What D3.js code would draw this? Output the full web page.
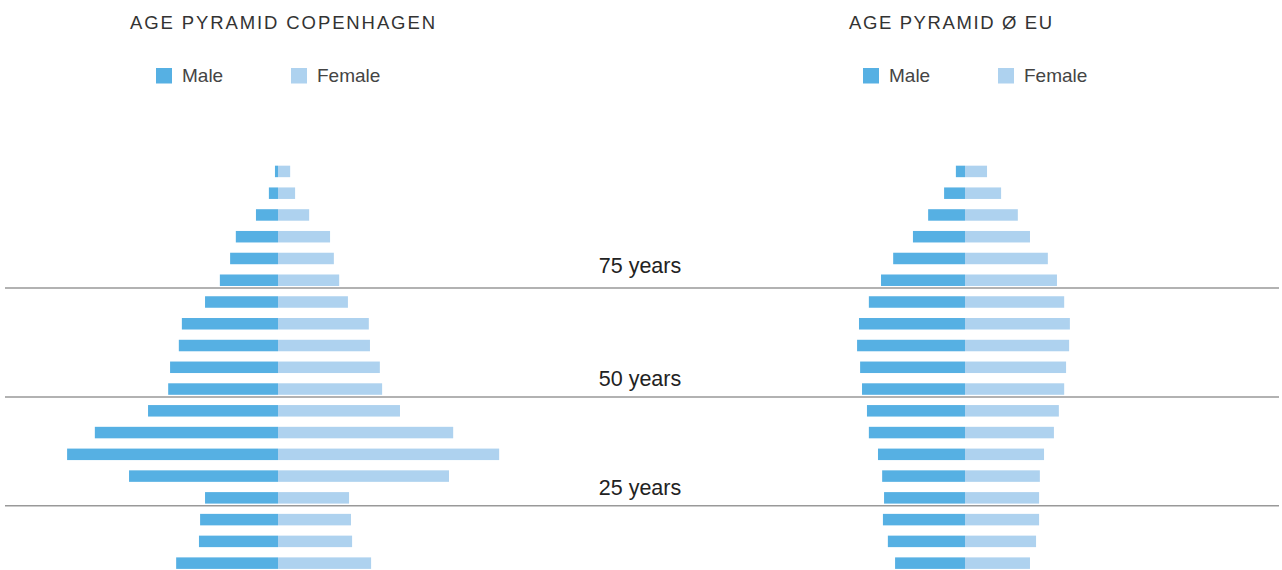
<!DOCTYPE html>
<html>
<head>
<meta charset="utf-8">
<script src="https://cdn.jsdelivr.net/npm/d3@7"></script>
<style>
  body { margin: 0; background: #fff; }
  svg text { font-family: "Liberation Sans", Arial, Helvetica, sans-serif; }
</style>
</head>
<body>
<script>
// age groups (start age of each 5-year group), youngest first
var ageGroups = [10, 15, 20, 25, 30, 35, 40, 45, 50, 55, 60, 65, 70, 75, 80, 85, 90, 95, 100];

// share of population in % per group
var cphMale   = [2.68, 2.08, 2.05, 1.92, 3.92, 5.55, 4.82, 3.42, 2.89, 2.84, 2.61, 2.53, 1.92, 1.53, 1.26, 1.11, 0.58, 0.24, 0.08];
var cphFemale = [2.45, 1.95, 1.92, 1.87, 4.50, 5.82, 4.61, 3.21, 2.74, 2.68, 2.42, 2.39, 1.84, 1.61, 1.47, 1.37, 0.82, 0.45, 0.32];
var euMale    = [1.84, 2.03, 2.16, 2.13, 2.18, 2.29, 2.53, 2.58, 2.71, 2.76, 2.84, 2.79, 2.53, 2.21, 1.89, 1.37, 0.97, 0.55, 0.24];
var euFemale  = [1.71, 1.87, 1.95, 1.95, 1.97, 2.08, 2.34, 2.47, 2.61, 2.66, 2.74, 2.76, 2.61, 2.42, 2.18, 1.71, 1.39, 0.95, 0.58];

// reference lines
var markerAges = [25, 50, 75];
var markerLabels = ["25 years", "50 years", "75 years"];

var titles = ["AGE PYRAMID COPENHAGEN", "AGE PYRAMID \u00d8 EU"];
var legendLabels = ["Male", "Female"];

var width = 1282, height = 570;
var maleColor = "#56b0e3", femaleColor = "#aed2ef";

var svg = d3.select("body").append("svg")
    .attr("width", width)
    .attr("height", height);

// vertical scale in years
var y = d3.scaleLinear().domain([0, 105]).range([614.5, 157.5]);
// horizontal scale in % of population
var x = d3.scaleLinear().domain([0, 6]).range([0, 228]);

var barH = 11.5;
var labelGap = [11, 11, 15]; // distance of label baseline above its line

// layout of the two pyramids
var panels = [
  {title: titles[0], male: cphMale, female: cphFemale, cx: 278, titleX: 130, legendX: 156, titleLen: 305},
  {title: titles[1], male: euMale, female: euFemale, cx: 965, titleX: 849, legendX: 863, titleLen: 203}
];

panels.forEach(function(p) {
  var g = svg.append("g");

  g.append("text")
      .attr("x", p.titleX)
      .attr("y", 29)
      .attr("textLength", p.titleLen)
      .attr("lengthAdjust", "spacing")
      .style("font-size", "18.5px")
      .style("fill", "#333")
      .text(p.title);

  // legend
  var leg = g.selectAll("g.legend")
      .data(legendLabels)
    .enter().append("g")
      .attr("class", "legend")
      .attr("transform", function(d, i) {
        return "translate(" + (p.legendX + i * 135) + ",68)";
      });

  leg.append("rect")
      .attr("width", 16)
      .attr("height", 15.5)
      .style("fill", function(d, i) { return i === 0 ? maleColor : femaleColor; });

  leg.append("text")
      .attr("x", 26)
      .attr("y", 14)
      .style("font-size", "19px")
      .style("fill", "#444")
      .text(function(d) { return d; });

  // bars
  g.selectAll("rect.male")
      .data(p.male)
    .enter().append("rect")
      .attr("class", "male")
      .attr("x", function(d) { return p.cx - x(d); })
      .attr("y", function(d, i) { return y(ageGroups[i] + 1.8) - barH / 2; })
      .attr("width", function(d) { return x(d); })
      .attr("height", barH)
      .style("fill", maleColor);

  g.selectAll("rect.female")
      .data(p.female)
    .enter().append("rect")
      .attr("class", "female")
      .attr("x", p.cx)
      .attr("y", function(d, i) { return y(ageGroups[i] + 1.8) - barH / 2; })
      .attr("width", function(d) { return x(d); })
      .attr("height", barH)
      .style("fill", femaleColor);
});

// horizontal age lines across both charts
svg.selectAll("line.marker")
    .data(markerAges)
  .enter().append("line")
    .attr("class", "marker")
    .attr("x1", 5)
    .attr("x2", 1279)
    .attr("y1", function(d) { return y(d); })
    .attr("y2", function(d) { return y(d); })
    .style("stroke", "#999")
    .style("stroke-width", 1.5);

svg.selectAll("text.marker")
    .data(markerAges)
  .enter().append("text")
    .attr("class", "marker")
    .attr("x", 640)
    .attr("y", function(d, i) { return y(d) - labelGap[i]; })
    .attr("text-anchor", "middle")
    .style("font-size", "21.5px")
    .style("fill", "#222")
    .text(function(d, i) { return markerLabels[i]; });
</script>
</body>
</html>
